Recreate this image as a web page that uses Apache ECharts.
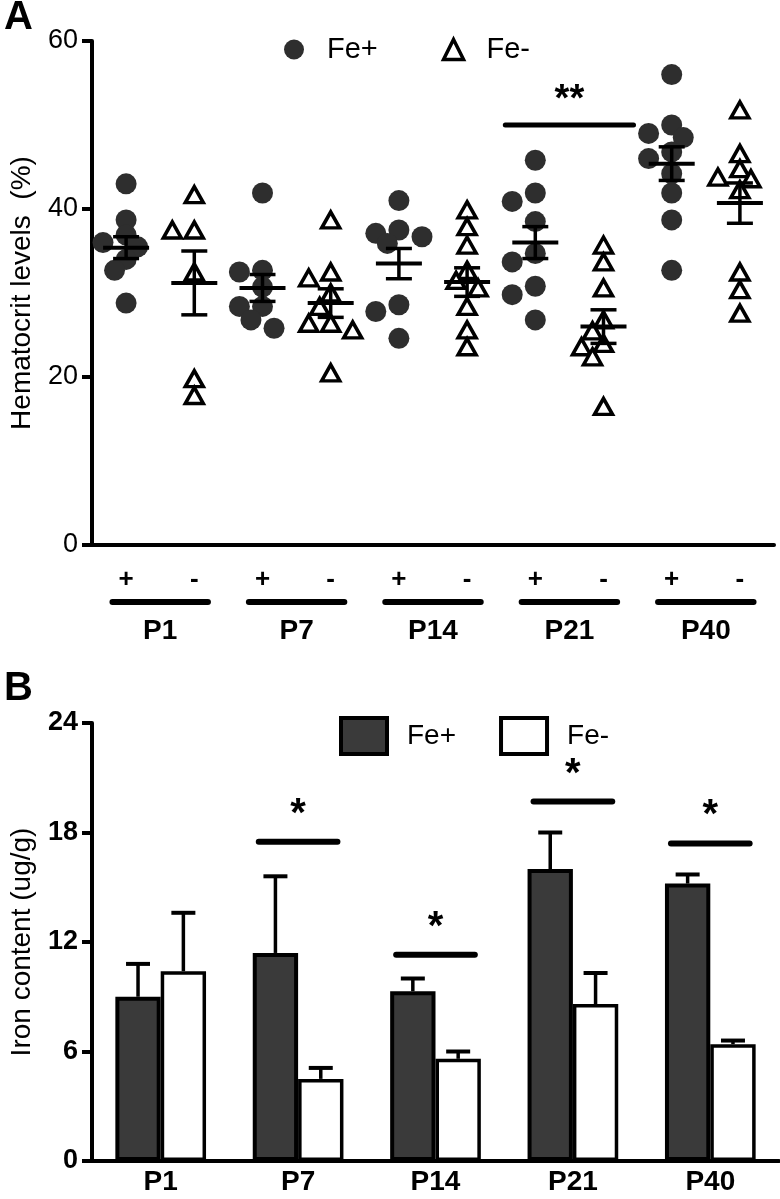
<!DOCTYPE html>
<html><head><meta charset="utf-8">
<script src="https://cdn.jsdelivr.net/npm/echarts@6/dist/echarts.min.js"></script>
<style>html,body{margin:0;padding:0;background:#fff}#c{width:780px;height:1199px}</style>
</head><body><div id="c"></div>
<script>
// ---------- data ----------
const groups = ['P1', 'P7', 'P14', 'P21', 'P40'];
const pairLabels = ['+', '-'];
const hctPlus = [
  [43.0, 38.7, 36.9, 36.0, 35.5, 34.0, 32.7, 28.8],
  [41.9, 32.7, 32.5, 30.7, 28.4, 28.4, 26.8, 25.8],
  [41.0, 37.5, 37.1, 36.7, 35.9, 28.6, 27.8, 24.6],
  [45.8, 41.9, 40.9, 38.5, 34.7, 33.7, 30.8, 29.8, 26.8],
  [56.0, 50.0, 49.0, 48.5, 46.8, 46.0, 44.2, 41.9, 38.7, 32.7]
];
const hctMinus = [
  [41.7, 37.5, 37.5, 32.5, 19.8, 17.8],
  [38.7, 32.5, 31.8, 30.0, 28.4, 26.4, 26.4, 25.6, 20.5],
  [39.9, 37.9, 35.7, 32.7, 31.5, 30.6, 28.4, 25.6, 23.6],
  [35.7, 33.7, 30.6, 26.8, 25.5, 24.0, 23.6, 22.4, 16.5],
  [51.8, 46.6, 44.8, 43.8, 43.6, 42.3, 32.5, 30.4, 27.6]
];
const hctMeanPlus = [35.4, 30.6, 33.5, 36.0, 45.4];
const hctSemPlus = [1.3, 1.6, 1.8, 1.9, 2.0];
const hctMeanMinus = [31.2, 28.8, 31.3, 26.0, 40.7];
const hctSemMinus = [3.8, 1.7, 1.7, 2.0, 2.4];
const hctSigGroup = [3];
const hctSigHeight = [50];
const hctSigText = ['**'];

const ironPlus = [9.0, 11.4, 9.3, 16.0, 15.2];
const ironPlusSem = [1.8, 4.2, 0.7, 2.0, 0.5];
const ironMinus = [10.4, 4.5, 5.6, 8.6, 6.4];
const ironMinusSem = [3.2, 0.6, 0.4, 1.7, 0.2];
const ironSigGroup = [1, 2, 3, 4];
const ironSigHeight = [17.5, 11.3, 19.7, 17.4];
const ironSigText = ['*', '*', '*', '*'];

const hctAxis = { min: 0, max: 60, interval: 20 };
const ironAxis = { min: 0, max: 24, interval: 6 };

// ---------- layout / styles ----------
const FONT = 'Liberation Sans, Arial, sans-serif';
const GA = { left: 91, top: 41, width: 683, height: 504 };
const GB = { left: 91, top: 723, width: 688, height: 438 };
const PPU_A = GA.height / (hctAxis.max - hctAxis.min);
const DOT = 21, TRI = [18, 16];
const DARK = '#2e2e2e', BAR_DARK = '#3a3a3a';
const AX = 4;

// simple beeswarm layout to spread overlapping points horizontally
function swarm(vals, d) {
  const order = vals.map((v, i) => i).sort((a, b) => vals[b] - vals[a]);
  const placed = [];
  const out = new Array(vals.length).fill(0);
  const minD = d * 0.72, step = d * 0.55;
  order.forEach(i => {
    const y = vals[i] * PPU_A;
    for (let k = 0; k < 40; k++) {
      const dx = k === 0 ? 0 : (k % 2 ? -1 : 1) * Math.ceil(k / 2) * step;
      if (placed.every(p => (p.x - dx) ** 2 + (p.y - y) ** 2 >= minD * minD)) {
        out[i] = dx; placed.push({ x: dx, y }); break;
      }
    }
  });
  return out;
}

const hctCats = [];
groups.forEach(() => pairLabels.forEach(l => hctCats.push(l)));

const plusData = [], minusData = [], meanData = [];
groups.forEach((g, gi) => {
  const oP = swarm(hctPlus[gi], DOT);
  hctPlus[gi].forEach((v, k) => plusData.push({ value: [2 * gi, v], symbolOffset: [oP[k], 0] }));
  const oM = swarm(hctMinus[gi], 20);
  hctMinus[gi].forEach((v, k) => minusData.push({ value: [2 * gi + 1, v], symbolOffset: [oM[k], 0] }));
  meanData.push([2 * gi, hctMeanPlus[gi], hctSemPlus[gi]]);
  meanData.push([2 * gi + 1, hctMeanMinus[gi], hctSemMinus[gi]]);
});

const ironErrData = [];
groups.forEach((g, gi) => {
  ironErrData.push([gi, ironPlus[gi], ironPlusSem[gi], -1]);
  ironErrData.push([gi, ironMinus[gi], ironMinusSem[gi], 1]);
});

const BLK = { stroke: '#000', lineWidth: 3.5 };
function line(x1, y1, x2, y2, st) { return { type: 'line', shape: { x1, y1, x2, y2 }, style: st || BLK }; }

const chart = echarts.init(document.getElementById('c'));
chart.setOption({
  animation: false,
  backgroundColor: '#fff',
  textStyle: { fontFamily: FONT, color: '#000' },
  title: [
    { text: 'A', left: -1, top: -7, textStyle: { fontSize: 40, fontWeight: 'bold', color: '#000', fontFamily: FONT } },
    { text: 'B', left: -1, top: 664, textStyle: { fontSize: 40, fontWeight: 'bold', color: '#000', fontFamily: FONT } }
  ],
  legend: [
    { left: 279, top: 30, itemWidth: 20, itemHeight: 20, itemGap: 64, selectedMode: false,
      textStyle: { fontSize: 29, color: '#000', fontFamily: FONT, padding: [0, 0, 0, 18] },
      data: [
        { name: 'Fe+', icon: 'circle', itemStyle: { color: DARK, borderWidth: 0 } },
        { name: 'Fe-', icon: 'triangle', itemStyle: { color: '#fff', borderColor: '#000', borderWidth: 3.5 } }
      ] },
    { left: 334, top: 711, itemWidth: 46, itemHeight: 36, itemGap: 43, selectedMode: false,
      textStyle: { fontSize: 28, color: '#000', fontFamily: FONT, padding: [0, 0, 0, 15] },
      data: [
        { name: 'Fe+', icon: 'rect', itemStyle: { color: BAR_DARK, borderColor: '#000', borderWidth: 4 } },
        { name: 'Fe-', icon: 'rect', itemStyle: { color: '#fff', borderColor: '#000', borderWidth: 4 } }
      ] }
  ],
  grid: [
    Object.assign({ containLabel: false }, GA),
    Object.assign({ containLabel: false }, GB)
  ],
  xAxis: [
    { gridIndex: 0, type: 'category', data: hctCats, position: 'bottom',
      axisLine: { lineStyle: { color: '#000', width: AX } },
      axisTick: { alignWithLabel: true, length: 9, lineStyle: { color: '#000', width: AX } },
      axisLabel: { color: '#000', fontSize: 26, fontWeight: 'bold', margin: 22, fontFamily: FONT } },
    { gridIndex: 0, type: 'category', data: groups, position: 'bottom',
      axisLine: { show: false }, axisTick: { show: false },
      axisLabel: { color: '#000', fontSize: 28, fontWeight: 'bold', margin: 72, fontFamily: FONT } },
    { gridIndex: 1, type: 'category', data: groups, position: 'bottom',
      axisLine: { lineStyle: { color: '#000', width: AX } },
      axisTick: { alignWithLabel: true, length: 9, lineStyle: { color: '#000', width: AX } },
      axisLabel: { color: '#000', fontSize: 28, fontWeight: 'bold', margin: 7, fontFamily: FONT } }
  ],
  yAxis: [
    { gridIndex: 0, type: 'value', min: hctAxis.min, max: hctAxis.max, interval: hctAxis.interval,
      axisLine: { show: true, lineStyle: { color: '#000', width: AX } },
      axisTick: { show: true, length: 10, lineStyle: { color: '#000', width: AX } },
      splitLine: { show: false },
      axisLabel: { color: '#000', fontSize: 27, margin: 14, fontFamily: FONT },
      name: 'Hematocrit levels  (%)', nameLocation: 'middle', nameGap: 56,
      nameTextStyle: { fontSize: 28, color: '#000', fontFamily: FONT } },
    { gridIndex: 1, type: 'value', min: ironAxis.min, max: ironAxis.max, interval: ironAxis.interval,
      axisLine: { show: true, lineStyle: { color: '#000', width: AX } },
      axisTick: { show: true, length: 10, lineStyle: { color: '#000', width: AX } },
      splitLine: { show: false },
      axisLabel: { color: '#000', fontSize: 27, fontWeight: 'bold', margin: 14, fontFamily: FONT },
      name: 'Iron content (ug/g)', nameLocation: 'middle', nameGap: 56,
      nameTextStyle: { fontSize: 28, color: '#000', fontFamily: FONT } }
  ],
  series: [
    { name: 'Fe+', type: 'scatter', xAxisIndex: 0, yAxisIndex: 0, symbol: 'circle', symbolSize: DOT,
      itemStyle: { color: DARK, opacity: 1 }, data: plusData, z: 3 },
    { name: 'Fe-', type: 'scatter', xAxisIndex: 0, yAxisIndex: 0, symbol: 'triangle', symbolSize: TRI,
      itemStyle: { color: '#fff', borderColor: '#000', borderWidth: 3.5, opacity: 1 }, data: minusData, z: 3 },
    { type: 'custom', xAxisIndex: 0, yAxisIndex: 0, z: 5, data: meanData,
      renderItem: (p, api) => {
        const c = api.coord([api.value(0), api.value(1)]);
        const t = api.coord([api.value(0), api.value(1) + api.value(2)]);
        const b = api.coord([api.value(0), api.value(1) - api.value(2)]);
        return { type: 'group', children: [
          line(c[0] - 23, c[1], c[0] + 23, c[1], { stroke: '#000', lineWidth: 4 }),
          line(c[0], t[1], c[0], b[1]),
          line(c[0] - 13, t[1], c[0] + 13, t[1]),
          line(c[0] - 13, b[1], c[0] + 13, b[1])
        ] };
      } },
    { type: 'custom', xAxisIndex: 1, yAxisIndex: 0, clip: false, silent: true,
      data: groups.map((g, i) => [i, 0]),
      renderItem: (p, api) => {
        const c = api.coord([api.value(0), 0]);
        const bw = api.size([1, 0])[0];
        return line(c[0] - bw * 0.35, c[1] + 57, c[0] + bw * 0.35, c[1] + 57,
          { stroke: '#000', lineWidth: 6, lineCap: 'round' });
      } },
    { type: 'custom', xAxisIndex: 1, yAxisIndex: 0, clip: false, silent: true,
      data: hctSigGroup.map((g, i) => [g, hctSigHeight[i], i]),
      renderItem: (p, api) => {
        const c = api.coord([api.value(0), api.value(1)]);
        const bw = api.size([1, 0])[0];
        return { type: 'group', children: [
          line(c[0] - bw * 0.47, c[1], c[0] + bw * 0.47, c[1], { stroke: '#000', lineWidth: 5, lineCap: 'round' }),
          { type: 'text', x: c[0], y: c[1] - 24, style: { text: hctSigText[api.value(2)], fontSize: 38, fontWeight: 'bold',
            fontFamily: FONT, fill: '#000', align: 'center', verticalAlign: 'middle' } }
        ] };
      } },
    { name: 'Fe+', type: 'bar', xAxisIndex: 2, yAxisIndex: 1, barWidth: '33%', barGap: '0%',
      itemStyle: { color: BAR_DARK, borderColor: '#000', borderWidth: 4 }, data: ironPlus, z: 2 },
    { name: 'Fe-', type: 'bar', xAxisIndex: 2, yAxisIndex: 1, barWidth: '33%', barGap: '0%',
      itemStyle: { color: '#fff', borderColor: '#000', borderWidth: 3.5 }, data: ironMinus, z: 2 },
    { type: 'custom', xAxisIndex: 2, yAxisIndex: 1, z: 1, silent: true, data: ironErrData,
      renderItem: (p, api) => {
        const bw = api.size([1, 0])[0] * 0.33;
        const c = api.coord([api.value(0), api.value(1)]);
        const t = api.coord([api.value(0), api.value(1) + api.value(2)]);
        const x = c[0] + api.value(3) * bw / 2;
        return { type: 'group', children: [
          line(x, c[1], x, t[1]),
          line(x - 12, t[1], x + 12, t[1], { stroke: '#000', lineWidth: 4 })
        ] };
      } },
    { type: 'custom', xAxisIndex: 2, yAxisIndex: 1, clip: false, silent: true,
      data: ironSigGroup.map((g, i) => [g, ironSigHeight[i], i]),
      renderItem: (p, api) => {
        const c = api.coord([api.value(0), api.value(1)]);
        const bw = api.size([1, 0])[0] * 0.33;
        return { type: 'group', children: [
          line(c[0] - bw + 6, c[1], c[0] + bw - 6, c[1], { stroke: '#000', lineWidth: 6, lineCap: 'round' }),
          { type: 'text', x: c[0], y: c[1] - 27, style: { text: ironSigText[api.value(2)], fontSize: 40, fontWeight: 'bold',
            fontFamily: FONT, fill: '#000', align: 'center', verticalAlign: 'middle' } }
        ] };
      } }
  ]
});
</script>
</body></html>
